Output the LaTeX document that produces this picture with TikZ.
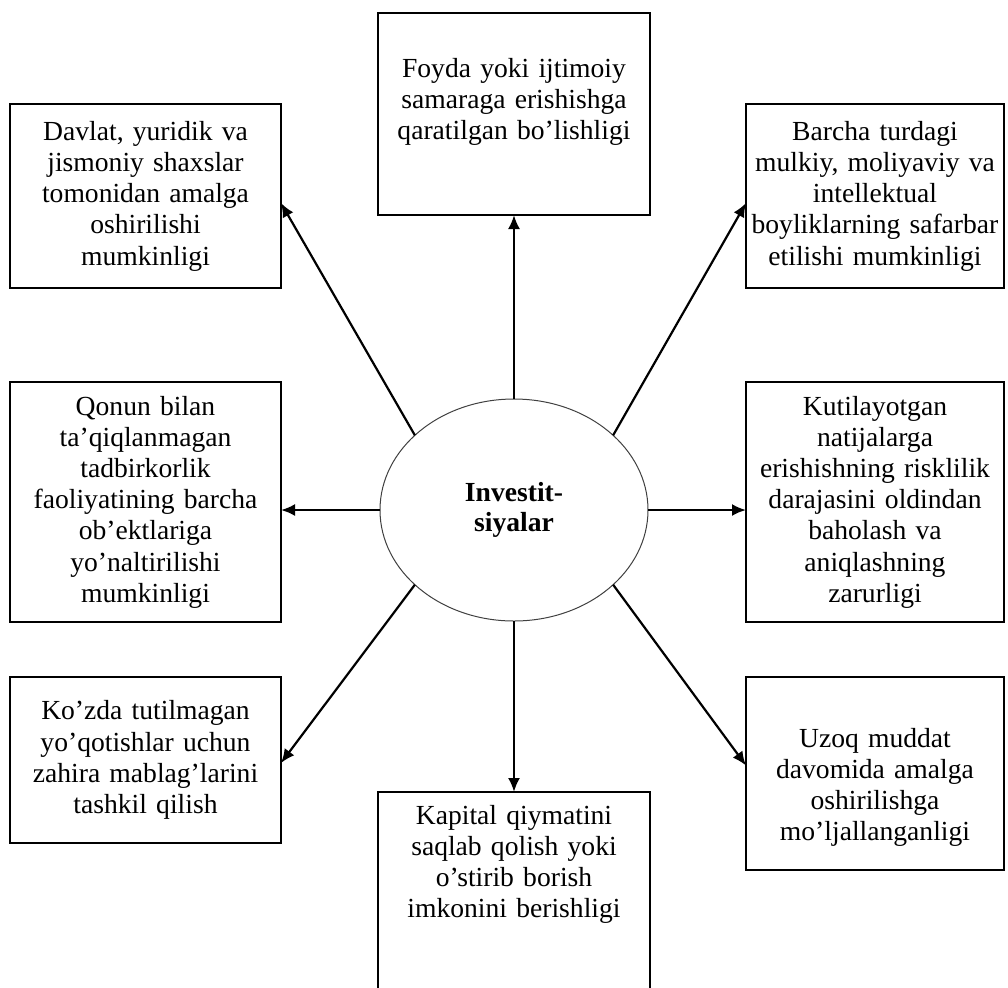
\documentclass[tikz,border=0pt]{standalone}
\usepackage{fontspec}
\setmainfont{Liberation Serif}[WordSpace=0.7]
\usetikzlibrary{arrows.meta,shapes.geometric}

\begin{document}
\begin{tikzpicture}[x=0.5pt,y=-0.5pt,
  quti/.style={draw,line width=0.8pt,inner sep=0pt,outer sep=0pt,align=center,
    font=\fontsize{13.8}{15.6}\selectfont},
  chap/.style={quti,minimum width=135.5pt,text width=132pt},
  ong/.style={quti,minimum width=129pt,text width=127pt},
  orta/.style={quti,minimum width=136pt,text width=132pt},
  strelka/.style={line width=1.1pt,-{Latex[length=7pt,width=6pt]}}]
\useasboundingbox (0,0) rectangle (1008,987);

\node[draw=black!75,line width=0.5pt,ellipse,minimum width=134pt,minimum height=111pt,
  inner sep=0pt,outer sep=0pt,align=center,
  font=\fontsize{13.8}{15.2}\selectfont\bfseries] (invest) at (514,510) {Investit-\\siyalar};

\node[orta,minimum height=101pt,text height=0pt,text depth=37pt] (foyda) at (514,114)
  {Foyda yoki ijtimoiy\\samaraga erishishga\\qaratilgan bo’lishligi};
\node[chap,minimum height=92pt] (davlat) at (145.5,196)
  {Davlat, yuridik va\\jismoniy shaxslar\\tomonidan amalga\\oshirilishi\\mumkinligi};
\node[ong,minimum height=92pt] (barcha) at (875,196)
  {Barcha turdagi\\mulkiy, moliyaviy va\\intellektual\\boyliklarning safarbar\\etilishi mumkinligi};
\node[chap,minimum height=120pt] (qonun) at (145.5,502)
  {Qonun bilan\\ta’qiqlanmagan\\tadbirkorlik\\faoliyatining barcha\\ob’ektlariga\\yo’naltirilishi\\mumkinligi};
\node[ong,minimum height=120pt] (kutil) at (875,502)
  {Kutilayotgan\\natijalarga\\erishishning risklilik\\darajasini oldindan\\baholash va\\aniqlashning\\zarurligi};
\node[chap,minimum height=83pt] (kozda) at (145.5,760)
  {Ko’zda tutilmagan\\yo’qotishlar uchun\\zahira mablag’larini\\tashkil qilish};
\node[ong,minimum height=96.5pt,text height=0pt,text depth=26.5pt] (uzoq) at (875,773.5)
  {Uzoq muddat\\davomida amalga\\oshirilishga\\mo’ljallanganligi};
\node[orta,minimum height=104pt,text height=0pt,text depth=72pt] (kapital) at (514,896)
  {Kapital qiymatini\\saqlab qolish yoki\\o’stirib borish\\imkonini berishligi};

\draw[strelka] (invest.north) -- (foyda.south);
\draw[strelka] (invest.south) -- (kapital.north);
\draw[strelka] (invest.west) -- (invest.west -| qonun.east);
\draw[strelka] (invest.east) -- (invest.east -| kutil.west);
\draw[strelka] (invest.143) -- ([yshift=-3.5pt]davlat.east);
\draw[strelka] (invest.37) -- ([yshift=-3.5pt]barcha.west);
\draw[strelka] (invest.217) -- ([yshift=-1.5pt]kozda.east);
\draw[strelka] (invest.323) -- ([yshift=4pt]uzoq.west);

\end{tikzpicture}
\end{document}
